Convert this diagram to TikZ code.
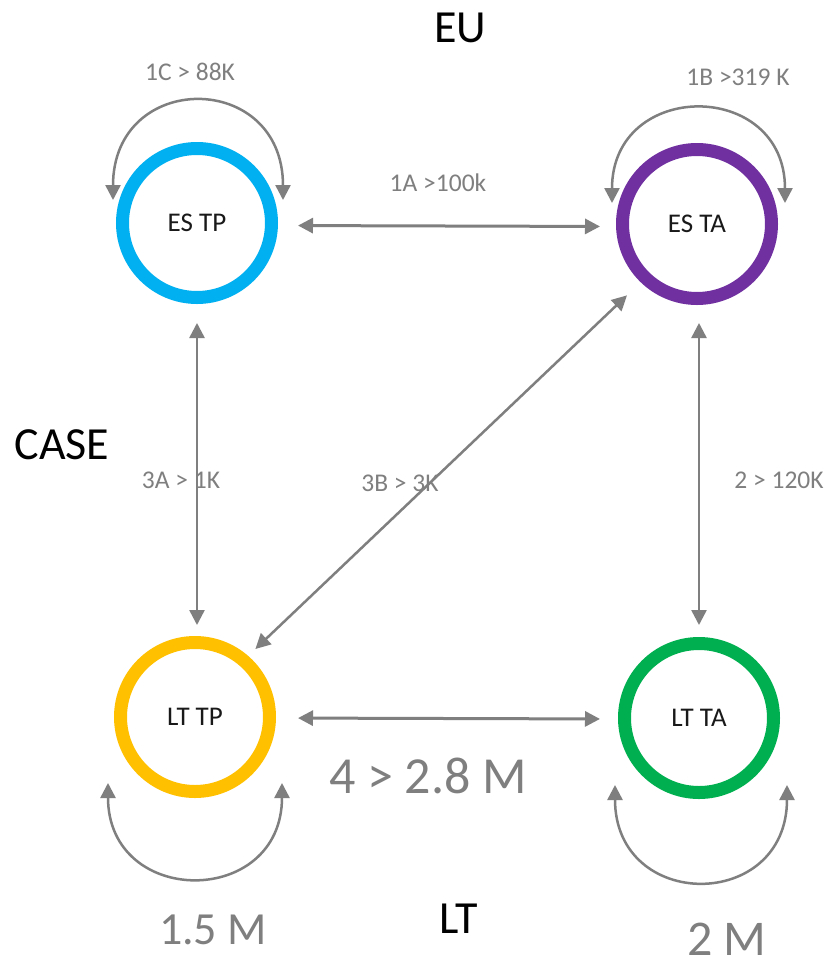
\documentclass[tikz,border=0pt]{standalone}
\usepackage{fontspec}
\setmainfont{Carlito}
\usetikzlibrary{arrows.meta}
\definecolor{tgray}{HTML}{7F7F7F}
\definecolor{escyan}{HTML}{00B0F0}
\definecolor{espurple}{HTML}{7030A0}
\definecolor{ltgold}{HTML}{FFC000}
\definecolor{ltgreen}{HTML}{00B050}
\begin{document}
\begin{tikzpicture}[x=1pt,y=-1pt,
  state/.style={circle, line width=13pt, minimum size=149pt, inner sep=0pt, font=\fontsize{27}{32}\selectfont, text=black!90},
  arr/.style={draw=tgray, line width=2.5pt, {Triangle[length=15pt,width=15pt]}-{Triangle[length=15pt,width=15pt]}},
  looparr/.style={arr, {Triangle[length=15pt,width=15pt]}-{Triangle[length=15pt,width=15pt]}},
  lbl/.style={text=tgray, font=\fontsize{25.5}{30}\selectfont, inner sep=0pt},
  big/.style={font=\fontsize{46}{55}\selectfont, inner sep=0pt},
  bignum/.style={text=tgray, inner sep=0pt}]
\fill[white] (0,0) rectangle (830,967);
\useasboundingbox (0,0) rectangle (830,967);

\node[state, draw=escyan] (estp) at (197,223) {ES TP};
\node[state, draw=espurple] (esta) at (697,224) {ES TA};
\node[state, draw=ltgold] (lttp) at (195,717) {LT TP};
\node[state, draw=ltgreen] (ltta) at (699,718) {LT TA};

% horizontal connectors
\draw[arr, line width=3pt, shorten <=20pt, shorten >=16pt] ([yshift=-2.5pt]estp.east) -- ([yshift=-2.5pt]esta.west);
\draw[arr, line width=3pt, shorten <=22pt, shorten >=18pt] ([yshift=-1pt]lttp.east) -- ([yshift=-1pt]ltta.west);
% vertical connectors
\draw[arr, shorten <=19pt, shorten >=11pt] (estp.south) -- (estp.south |- lttp.north);
\draw[arr, shorten <=18pt, shorten >=12pt] ([xshift=2pt]esta.south) -- ([xshift=2pt]esta.south |- ltta.north);
% diagonal
\draw[arr, shorten <=10pt, shorten >=19pt] (lttp.49) -- (esta.226.6);

% self loops
\draw[looparr] ([shift={(-84,-23)}]estp.center) .. controls +(0,-130) and +(0,-130) .. ([shift={(86,-23)}]estp.center);
\draw[looparr] ([shift={(-85,-21)}]esta.center) .. controls +(0,-124) and +(0,-124) .. ([shift={(88,-21)}]esta.center);
\draw[looparr] ([shift={(-87,66)}]lttp.center) .. controls +(0,125) and +(0,125) .. ([shift={(87,66)}]lttp.center);
\draw[looparr] ([shift={(-84,67)}]ltta.center) .. controls +(0,127) and +(0,127) .. ([shift={(88,67)}]ltta.center);

% small labels
\node[lbl] (l1c) at (190,72) {1C > 88K};
\node[lbl] (l1b) at (738,77) {1B >319 K};
\node[lbl] (l1a) at (438,183) {1A >100k};
\node[lbl] (l3a) at (181,480) {3A > 1K};
\node[lbl] (l3b) at (400,483) {3B > 3K};
\node[lbl] (l2) at (779,480) {2 > 120K};

% big labels
\node[big] (eu) at (460,28) {EU};
\node[big] (case) at (62,445) {CASE};
\node[big] (lt) at (459,919) {LT};
\node[bignum, font=\fontsize{46}{55}\selectfont] (n15) at (213,930) {1.5 M};
\node[bignum, font=\fontsize{50}{60}\selectfont] (n2) at (727,939) {2 M};
\node[bignum, font=\fontsize{52}{62}\selectfont] (n4) at (428,776) {4 > 2.8 M};
\end{tikzpicture}
\end{document}
